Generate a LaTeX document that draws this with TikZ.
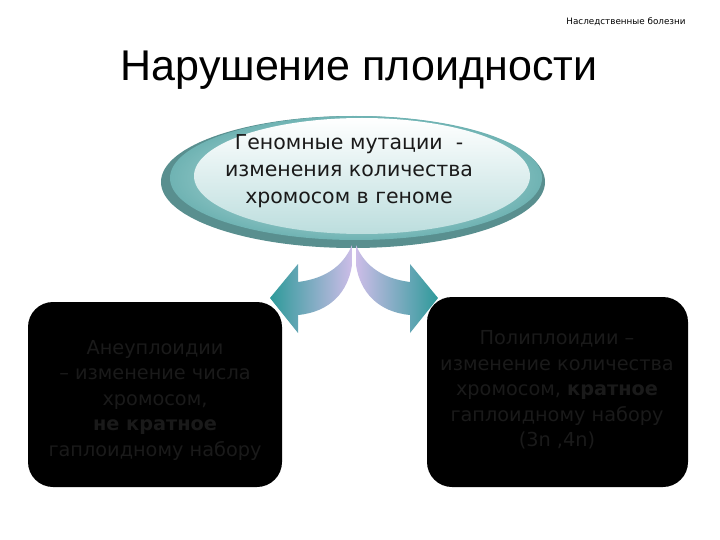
\documentclass[tikz,border=0pt]{standalone}
\usepackage{fontspec}
\setmainfont{DejaVu Sans}
\newfontfamily\titlefont{Liberation Sans}
\usetikzlibrary{shapes.geometric}
\definecolor{teal1}{HTML}{2E9A9A}
\definecolor{lav}{HTML}{CDBDE8}
\definecolor{rim}{HTML}{6FB3B3}
\definecolor{inner}{HTML}{DDF0F0}
\definecolor{dtext}{HTML}{1A1A1A}
\tikzset{
  boxstyle/.style={fill=black, rounded corners=25pt, draw=none},
  boxtext/.style={text=dtext, font=\fontsize{19.3}{25.5}\selectfont, align=center},
}
\begin{document}
\begin{tikzpicture}[x=1pt,y=-1pt]
\useasboundingbox (0,0) rectangle (720,540);
\fill[white] (0,0) rectangle (720,540);
\node (hdr) at (626,22) {\fontsize{8.8}{10}\selectfont Наследственные болезни};
\node (title) at (359,70) {\titlefont\fontsize{43}{50}\selectfont Нарушение плоидности};
% ellipse
\fill[rim!80!black] (353,182) ellipse [x radius=192, y radius=66];
\shade[inner color=inner, outer color=rim] (356,178) ellipse [x radius=186, y radius=62];
\shade[top color=white, bottom color=inner!70!rim] (362,176) ellipse [x radius=168, y radius=58];
\node[align=center, font=\fontsize{20.5}{27}\selectfont, text=dtext] (geno) at (349,171) {Геномные мутации \ -\\изменения количества\\хромосом в геноме};
% arrows
\shade[left color=teal1, right color=lav]
  (352,245) .. controls (345,262) and (330,278) .. (298,282)
  -- (298,264) -- (270,298) -- (298,333) -- (298,315)
  .. controls (330,312) and (348,292) .. (352,265) -- cycle;
\shade[right color=teal1, left color=lav]
  (356,245) .. controls (363,262) and (378,278) .. (410,282)
  -- (410,264) -- (438,298) -- (410,333) -- (410,315)
  .. controls (378,312) and (360,292) .. (356,265) -- cycle;
% boxes
\fill[boxstyle] (28,302) rectangle (282,487);
\fill[boxstyle] (427,297) rectangle (688,487);
\node[boxtext] (l) at (155,400) {Анеуплоидии\\ – изменение числа\\хромосом,\\\textbf{не кратное}\\гаплоидному набору};
\node[boxtext] (r) at (557,390) {Полиплоидии –\\изменение количества\\хромосом, \textbf{кратное}\\гаплоидному набору\\(3n ,4n)};
\end{tikzpicture}
\end{document}
